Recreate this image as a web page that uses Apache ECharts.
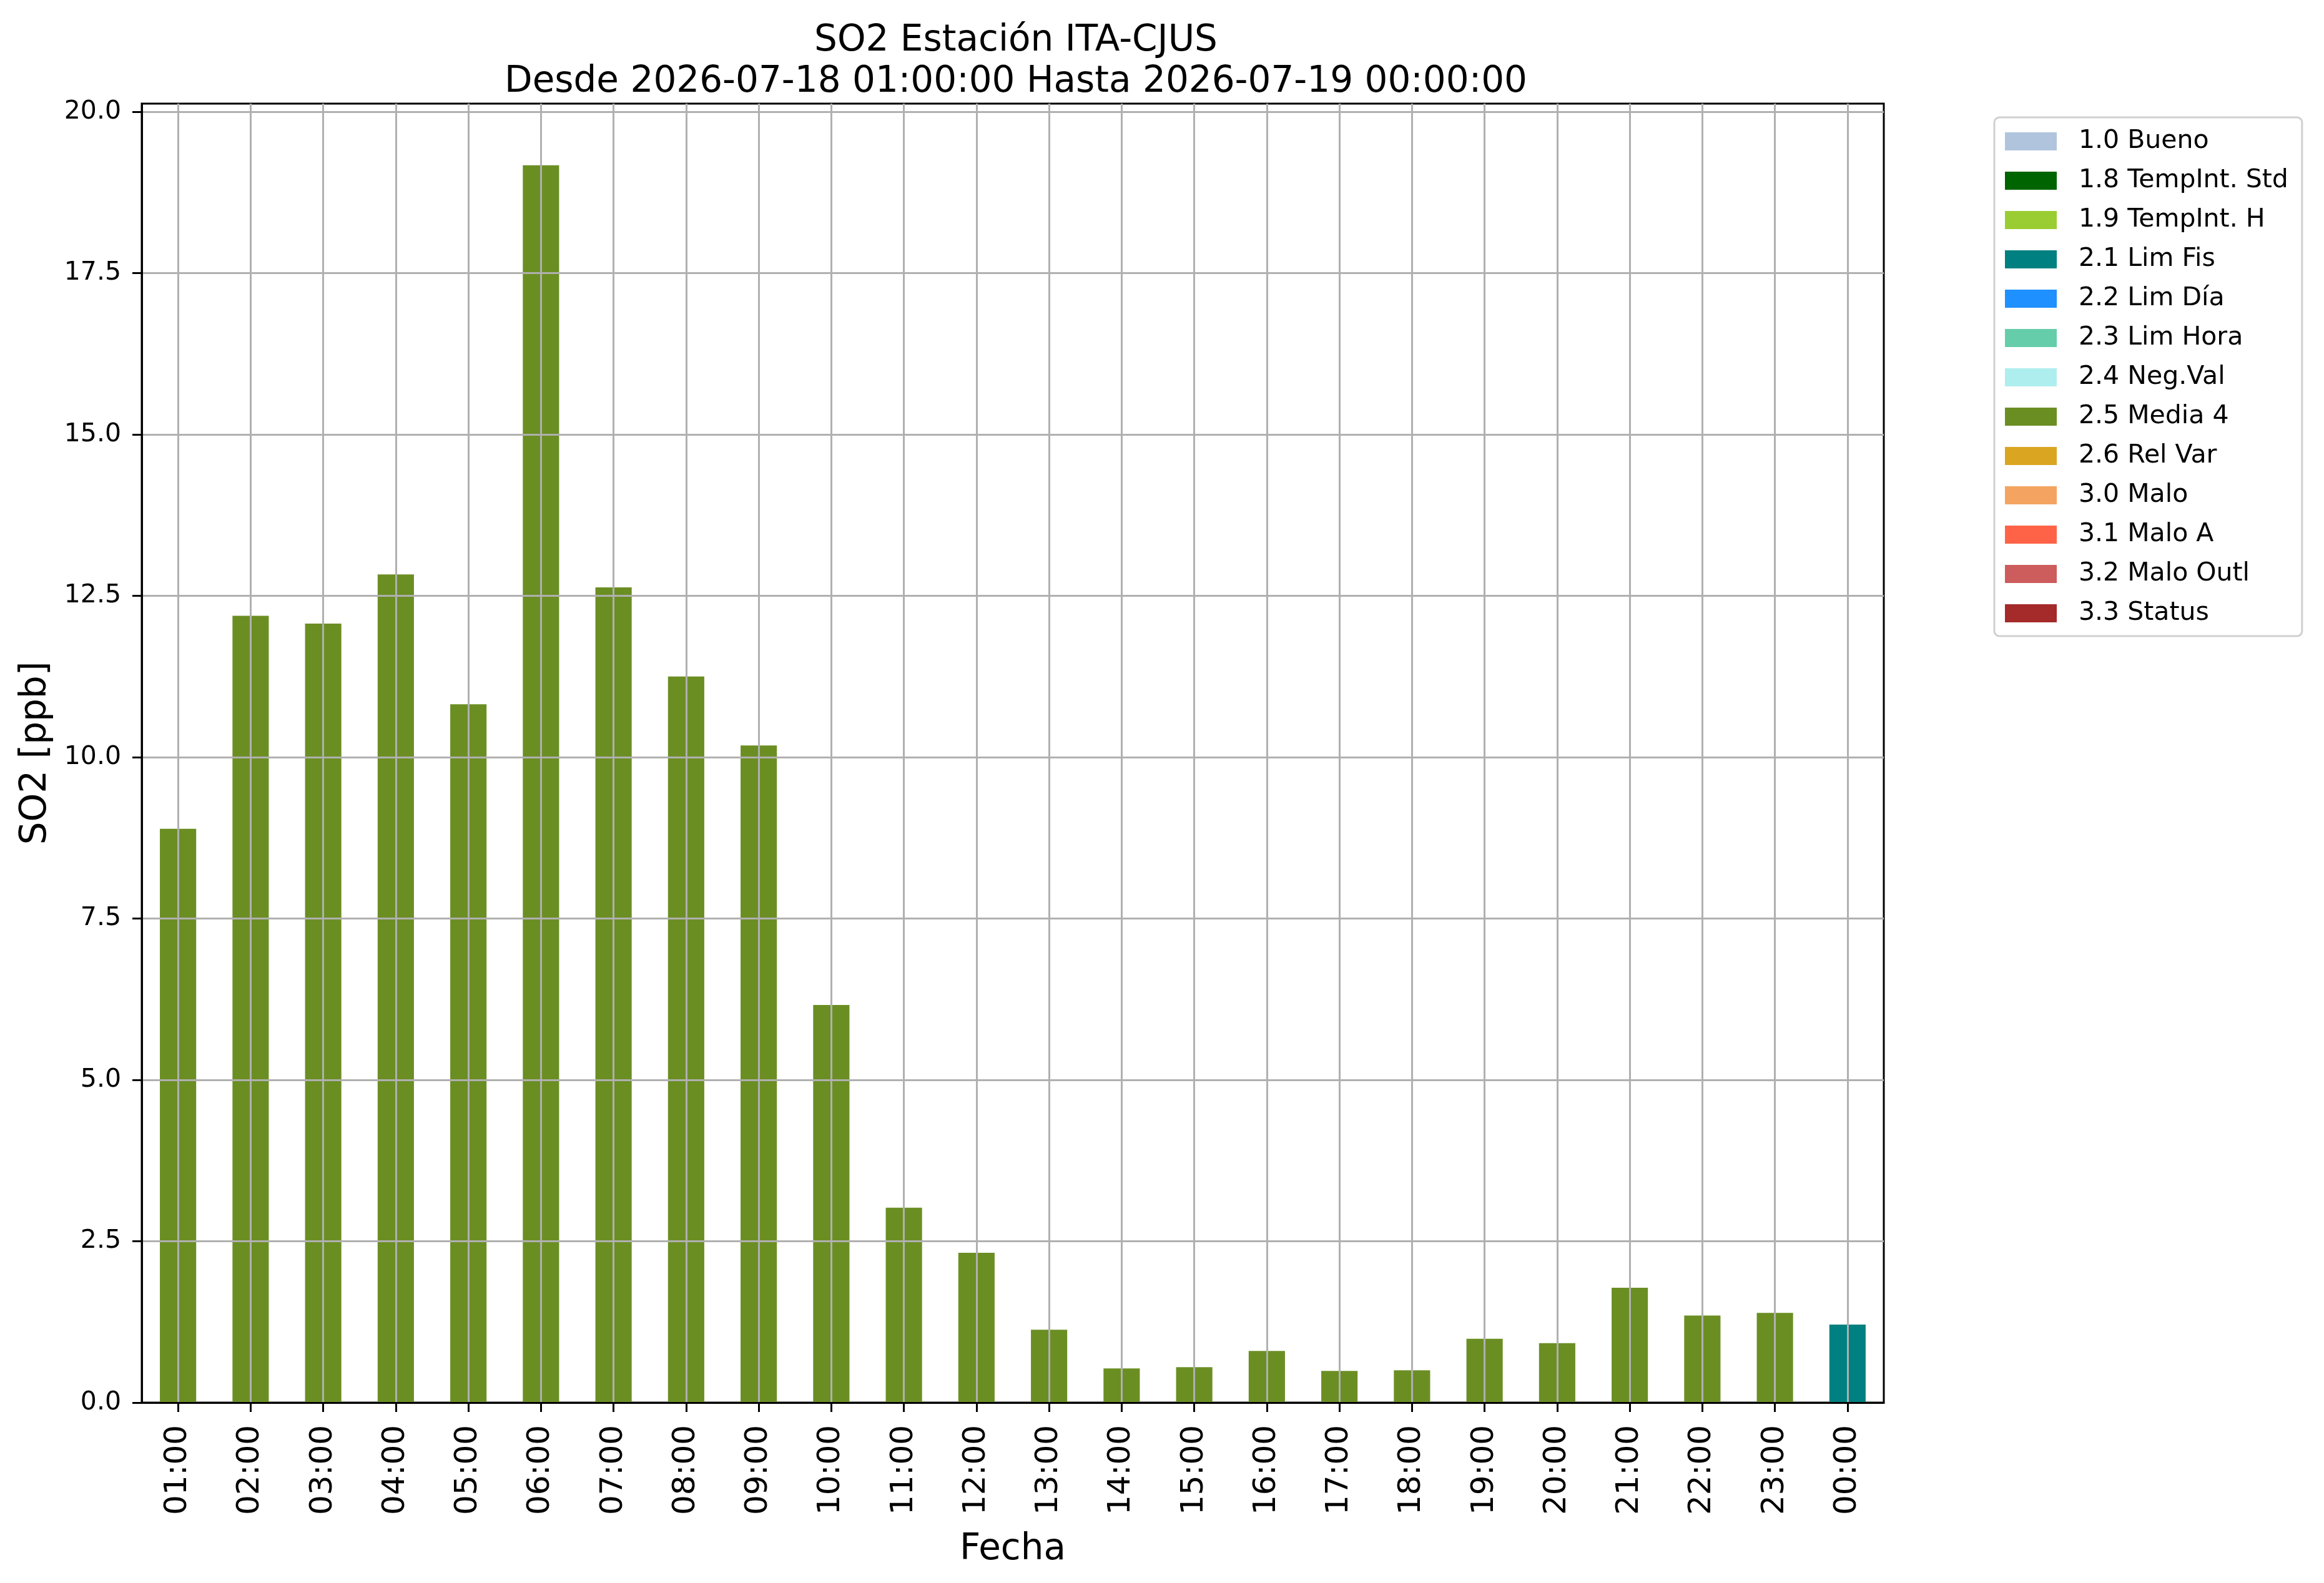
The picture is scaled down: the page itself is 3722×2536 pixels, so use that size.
<!DOCTYPE html>
<html>
<head>
<meta charset="utf-8">
<script src="https://cdn.jsdelivr.net/npm/echarts@6/dist/echarts.min.js"></script>
<style>
html,body{margin:0;padding:0;background:#ffffff;}
#chart{width:3722px;height:2536px;}
</style>
</head>
<body>
<div id="chart"></div>
<script>
// ---- data ----
const hours = ['01:00','02:00','03:00','04:00','05:00','06:00','07:00','08:00','09:00','10:00','11:00','12:00',
               '13:00','14:00','15:00','16:00','17:00','18:00','19:00','20:00','21:00','22:00','23:00','00:00'];
const so2Values = [8.89, 12.19, 12.07, 12.83, 10.82, 19.17, 12.63, 11.25, 10.18, 6.16, 3.02, 2.32,
                   1.13, 0.53, 0.55, 0.80, 0.49, 0.50, 0.99, 0.92, 1.78, 1.35, 1.39, 1.21];
const flagCodes = ['2.5 Media 4','2.5 Media 4','2.5 Media 4','2.5 Media 4','2.5 Media 4','2.5 Media 4',
                   '2.5 Media 4','2.5 Media 4','2.5 Media 4','2.5 Media 4','2.5 Media 4','2.5 Media 4',
                   '2.5 Media 4','2.5 Media 4','2.5 Media 4','2.5 Media 4','2.5 Media 4','2.5 Media 4',
                   '2.5 Media 4','2.5 Media 4','2.5 Media 4','2.5 Media 4','2.5 Media 4','2.1 Lim Fis'];
const flagNames = ['1.0 Bueno','1.8 TempInt. Std','1.9 TempInt. H','2.1 Lim Fis','2.2 Lim Día','2.3 Lim Hora',
                   '2.4 Neg.Val','2.5 Media 4','2.6 Rel Var','3.0 Malo','3.1 Malo A','3.2 Malo Outl','3.3 Status'];
const yTicks = [0, 2.5, 5, 7.5, 10, 12.5, 15, 17.5, 20];
const titleText = 'SO2 Estación ITA-CJUS\nDesde 2026-07-18 01:00:00 Hasta 2026-07-19 00:00:00';

// ---- styles ----
const flagColors = ['#b0c4de','#006400','#9acd32','#008080','#1e90ff','#66cdaa',
                    '#afeeee','#6b8e23','#daa520','#f4a460','#ff6347','#cd5c5c','#a52a2a'];
const FONT = 'DejaVu Sans';

const series = flagNames.map((name, k) => ({
  name: name,
  type: 'bar',
  stack: 'so2',
  barWidth: '50%',
  z: 1,
  itemStyle: { color: flagColors[k] },
  data: so2Values.map((v, i) => (flagCodes[i] === name ? v : null))
}));

const chart = echarts.init(document.getElementById('chart'), null, { renderer: 'canvas' });
chart.setOption({
  animation: false,
  backgroundColor: '#ffffff',
  textStyle: { fontFamily: FONT, color: '#000' },
  title: {
    text: titleText,
    left: 1622,
    top: 28,
    textAlign: 'center',
    textStyle: { fontFamily: FONT, fontSize: 58, fontWeight: 'normal', color: '#000', lineHeight: 66 }
  },
  legend: {
    orient: 'vertical',
    left: 3194,
    top: 188,
    data: flagNames,
    icon: 'rect',
    itemWidth: 83,
    itemHeight: 29,
    itemGap: 22,
    padding: [18, 22, 16, 17],
    backgroundColor: '#ffffff',
    borderColor: '#d0d0d0',
    borderWidth: 3,
    borderRadius: 8,
    selectedMode: false,
    textStyle: { fontFamily: FONT, fontSize: 41, color: '#000', padding: [0, 0, 0, 30] }
  },
  grid: {
    left: 227, top: 166, width: 2790, height: 2081,
    show: true, borderColor: '#000', borderWidth: 3, backgroundColor: 'transparent'
  },
  xAxis: {
    type: 'category',
    data: hours,
    z: 5,
    name: 'Fecha',
    nameLocation: 'middle',
    nameGap: 207,
    nameTextStyle: { fontFamily: FONT, fontSize: 58, color: '#000' },
    axisLine: { show: true, lineStyle: { color: '#000', width: 3 } },
    axisTick: { show: true, alignWithLabel: true, length: 15, lineStyle: { color: '#000', width: 3 } },
    axisLabel: { rotate: 90, fontFamily: FONT, fontSize: 50, color: '#000', margin: 36, interval: 0 },
    splitLine: { show: true, alignWithLabel: true, lineStyle: { color: '#b0b0b0', width: 3 } }
  },
  yAxis: {
    type: 'value',
    min: 0,
    max: 20.125,
    interval: 2.5,
    z: 5,
    name: 'SO2 [ppb]',
    nameLocation: 'middle',
    nameGap: 140,
    nameTextStyle: { fontFamily: FONT, fontSize: 58, color: '#000' },
    axisLine: { show: true, lineStyle: { color: '#000', width: 3 } },
    axisTick: { show: true, length: 15, customValues: yTicks, lineStyle: { color: '#000', width: 3 } },
    axisLabel: { fontFamily: FONT, fontSize: 41, color: '#000', margin: 33, customValues: yTicks,
                 formatter: v => v.toFixed(1) },
    splitLine: { show: true, lineStyle: { color: '#b0b0b0', width: 3 } }
  },
  series: series
});
</script>
</body>
</html>
